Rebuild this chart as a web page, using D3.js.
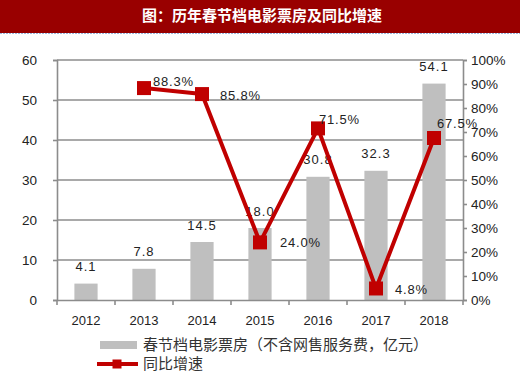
<!DOCTYPE html>
<html><head><meta charset="utf-8">
<script src="https://cdn.jsdelivr.net/npm/d3@7"></script>
<style>
html,body{margin:0;padding:0;background:#fff;}
svg{display:block;}
</style></head>
<body>
<svg id="chart" width="520" height="372"></svg>
<script>
// ---- data ----
const years = ['2012','2013','2014','2015','2016','2017','2018'];
const boxOffice = [4.1, 7.8, 14.5, 18.0, 30.8, 32.3, 54.1];
const growth = [null, 88.3, 85.8, 24.0, 71.5, 4.8, 67.5];
const leftTicks = [0, 10, 20, 30, 40, 50, 60];
const rightTicks = [0, 10, 20, 30, 40, 50, 60, 70, 80, 90, 100];
const title = '图：历年春节档电影票房及同比增速';
const legendBar = '春节档电影票房（不含网售服务费，亿元）';
const legendLine = '同比增速';

// ---- layout ----
const svg = d3.select('#chart');
const L = 57, R = 463, T = 60, B = 300;
const red = '#c00000', gray = '#bfbfbf', grid = '#8c8c8c', txt = '#222';
const latin = 'Arial, "Liberation Sans", sans-serif';
const cjk = '"Noto Sans CJK SC", sans-serif';

// title bar
svg.append('rect').attr('x',0).attr('y',0).attr('width',520).attr('height',33).attr('fill','#990000');
svg.append('line').attr('x1',0).attr('x2',520).attr('y1',33.5).attr('y2',33.5)
  .attr('stroke','#9ab8e0').attr('stroke-width',1).attr('stroke-dasharray','2,1');
svg.append('text').attr('x',262).attr('y',16).attr('dy','0.35em').attr('text-anchor','middle')
  .attr('fill','#fff').attr('font-family',cjk).attr('font-weight','bold').attr('font-size',15).text(title);

const x = d3.scaleBand().domain(years).range([L, R]);
const yL = d3.scaleLinear().domain([0, 60]).range([B, T]);
const yR = d3.scaleLinear().domain([0, 100]).range([B, T]);

// gridlines
svg.append('g').selectAll('line').data(leftTicks.filter(d => d > 0)).join('line')
  .attr('x1', L).attr('x2', R).attr('y1', d => yL(d)).attr('y2', d => yL(d))
  .attr('stroke', grid).attr('stroke-width', 1.6);

// left axis
const gl = svg.append('g').attr('transform', `translate(${L},0)`)
  .call(d3.axisLeft(yL).tickValues(leftTicks).tickSize(4).tickPadding(16));
gl.select('.domain').attr('stroke', grid).attr('stroke-width', 1.6);
gl.selectAll('.tick line').attr('stroke', grid).attr('stroke-width', 1.6);
gl.selectAll('text').attr('font-family', latin).attr('font-size', 13.5).attr('fill', txt);

// right axis
const gr = svg.append('g').attr('transform', `translate(${R},0)`)
  .call(d3.axisRight(yR).tickValues(rightTicks).tickSize(4).tickPadding(4).tickFormat(d => d + '%'));
gr.select('.domain').attr('stroke', grid).attr('stroke-width', 1.6);
gr.selectAll('.tick line').attr('stroke', grid).attr('stroke-width', 1.6);
gr.selectAll('text').attr('font-family', latin).attr('font-size', 13.5).attr('fill', txt);

// bars
const bw = x.bandwidth() * 0.4;
svg.append('g').selectAll('rect').data(boxOffice).join('rect')
  .attr('x', (d, i) => x(years[i]) + x.bandwidth() / 2 - bw / 2)
  .attr('y', d => yL(d)).attr('width', bw).attr('height', d => B - yL(d))
  .attr('fill', gray);

// bottom axis
const gb = svg.append('g').attr('transform', `translate(0,${B})`)
  .call(d3.axisBottom(x).tickSize(0).tickPadding(16));
gb.select('.domain').attr('stroke', grid).attr('stroke-width', 1.6);
gb.selectAll('text').attr('font-family', latin).attr('font-size', 13).attr('fill', txt);
svg.append('g').selectAll('line').data(d3.range(years.length + 1)).join('line')
  .attr('x1', i => L + i * x.step()).attr('x2', i => L + i * x.step())
  .attr('y1', B).attr('y2', B + 5).attr('stroke', grid).attr('stroke-width', 1.6);

// bar labels
svg.append('g').selectAll('text').data(boxOffice).join('text')
  .attr('x', (d, i) => x(years[i]) + x.bandwidth() / 2)
  .attr('y', d => yL(d) - 17).attr('dy', '0.35em').attr('text-anchor', 'middle')
  .attr('font-family', latin).attr('font-size', 13).attr('letter-spacing', 1).attr('fill', txt)
  .text(d => d.toFixed(1));

// line
const pts = growth.map((v, i) => ({ v, i })).filter(p => p.v != null);
const cx = p => x(years[p.i]) + x.bandwidth() / 2;
svg.append('path').datum(pts)
  .attr('d', d3.line().x(cx).y(p => yR(p.v)))
  .attr('fill', 'none').attr('stroke', red).attr('stroke-width', 4).attr('stroke-linejoin', 'round');
svg.append('g').selectAll('rect').data(pts).join('rect')
  .attr('x', p => cx(p) - 7).attr('y', p => yR(p.v) - 7).attr('width', 14).attr('height', 14)
  .attr('fill', red);

// growth labels (label placement offsets: dx from point, dy of label centre)
const place = { 1: [9, -7], 2: [18, 1], 3: [20, 0], 4: [1, -9], 5: [19, 1], 6: [3, -15] };
svg.append('g').selectAll('text').data(pts).join('text')
  .attr('x', p => cx(p) + place[p.i][0]).attr('y', p => yR(p.v) + place[p.i][1])
  .attr('dy', '0.35em').attr('font-family', latin).attr('font-size', 13).attr('letter-spacing', 0.8).attr('fill', txt)
  .text(p => p.v.toFixed(1) + '%');

// legend
svg.append('rect').attr('x', 100).attr('y', 341).attr('width', 37).attr('height', 8).attr('fill', gray);
svg.append('text').attr('x', 143).attr('y', 345).attr('dy', '0.35em')
  .attr('font-family', cjk).attr('font-size', 15).attr('fill', '#333').text(legendBar);
svg.append('line').attr('x1', 97).attr('x2', 138).attr('y1', 364).attr('y2', 364)
  .attr('stroke', red).attr('stroke-width', 4);
svg.append('rect').attr('x', 112.5).attr('y', 359.5).attr('width', 9).attr('height', 9).attr('fill', red);
svg.append('text').attr('x', 143).attr('y', 364).attr('dy', '0.35em')
  .attr('font-family', cjk).attr('font-size', 15).attr('fill', '#333').text(legendLine);
</script>
</body></html>
